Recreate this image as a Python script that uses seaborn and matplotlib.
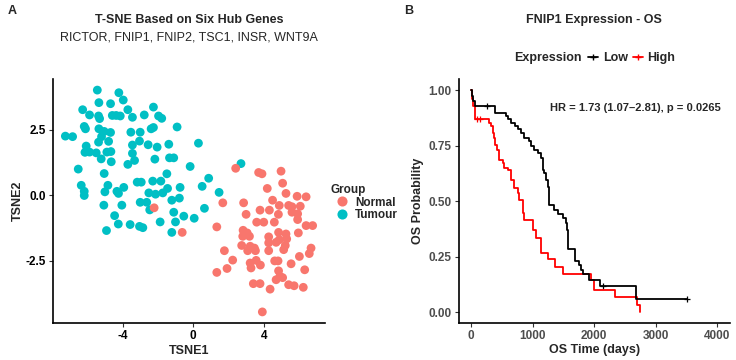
import numpy as np
import pandas as pd
import seaborn as sns
import matplotlib.pyplot as plt
from matplotlib.lines import Line2D

sns.set_style('white')
plt.rcParams['font.family'] = ['Liberation Sans', 'DejaVu Sans']
plt.rcParams['axes.unicode_minus'] = False

# t-SNE coordinates
tumour_x = [-5.43, -4.21, -5.34, -3.96, -4.68, -2.25, -6.26, -3.70, -5.87, -5.36,
            -5.30, -4.58, -4.36, -4.13, -3.44, -2.77, -1.96, -1.78, -6.17, -6.10,
            -5.34, -5.04, -4.68, -5.19, -2.25, -2.38, -0.91, -3.53, -3.00, -7.24,
            -6.83, -5.36, -4.79, -3.04, -2.55, -2.04, -3.44, -1.38, 0.30, -6.06,
            -6.13, -5.87, -5.49, -4.89, -4.66, -3.44, -5.21, -4.64, -3.32, -3.70,
            -2.17, -1.34, -1.10, -0.17, -6.51, -5.04, 2.71, 0.88, -1.49, -6.34,
            -6.17, -6.17, -4.83, -5.00, -4.32, -4.23, -3.93, -3.17, -2.94, -2.29,
            -2.51, -2.13, -1.72, -1.45, -1.83, -0.74, 0.51, 1.47, -5.06, -4.04,
            -3.00, -2.63, -1.21, -0.78, -2.46, -4.45, -1.10, -0.53, 0.06, -4.24,
            -3.57, -3.04, -2.85, -1.87, -1.00, -4.91, -1.21, 0.64]
tumour_y = [4.02, 3.92, 3.54, 3.64, 3.50, 3.37, 3.27, 3.27, 3.07, 3.03,
            2.93, 3.05, 3.05, 3.03, 2.98, 3.07, 3.03, 2.94, 2.63, 2.54,
            2.54, 2.44, 2.40, 2.24, 2.59, 2.54, 2.61, 2.41, 2.41, 2.26,
            2.24, 2.03, 2.06, 2.07, 1.93, 1.84, 1.92, 1.95, 1.99, 1.88,
            1.64, 1.65, 1.62, 1.65, 1.67, 1.60, 1.39, 1.28, 1.33, 1.18,
            1.38, 1.43, 1.43, 1.10, 1.00, 0.83, 1.21, 0.65, 0.82, 0.38,
            0.15, -0.01, 0.38, 0.13, 0.15, 0.07, 0.30, 0.50, 0.50, 0.54,
            0.09, 0.04, 0.09, 0.26, 0.54, 0.30, 0.34, 0.11, -0.38, -0.38,
            -0.27, -0.27, -0.19, -0.11, -0.56, -0.78, -0.65, -0.80, -0.88, -1.10,
            -1.12, -1.19, -1.24, -1.02, -1.02, -1.35, -1.42, -0.50]

normal_x = [2.41, 3.71, 3.90, 4.98, -2.21, -0.62, 5.07, 4.20, 5.26, 5.89,
            6.40, 1.68, 2.86, 4.50, 4.88, 5.41, 5.60, 6.07, 3.00, 3.79,
            4.32, 4.83, 5.60, 5.92, 5.92, 3.60, 4.00, 4.60, 1.34, 6.40,
            6.77, 2.83, 3.06, 4.84, 5.26, 5.96, 2.81, 3.19, 4.28, 4.88,
            5.30, 4.28, 4.70, 2.75, 3.23, 3.47, 5.22, 5.13, 6.68, 1.77,
            3.09, 3.53, 4.28, 6.58, 2.24, 3.23, 3.57, 3.81, 4.62, 4.81,
            5.55, 6.02, 1.34, 1.92, 3.28, 4.84, 6.32, 4.92, 5.07, 4.70,
            3.41, 3.79, 4.36, 5.41, 5.72, 6.24, 3.92]
normal_y = [1.03, 0.87, 0.82, 0.92, -0.48, -1.42, 0.46, 0.26, 0.07, -0.04,
            -0.06, -0.29, -0.29, -0.19, -0.39, -0.39, -0.44, -0.42, -0.73, -0.57,
            -0.57, -0.73, -0.65, -0.71, -0.93, -1.03, -1.03, -1.03, -1.21, -1.16,
            -1.16, -1.34, -1.44, -1.42, -1.48, -1.44, -1.57, -1.57, -1.59, -1.70,
            -1.67, -1.82, -1.80, -1.92, -1.95, -2.02, -1.92, -2.08, -2.02, -2.12,
            -2.12, -2.12, -2.12, -2.23, -2.48, -2.59, -2.49, -2.67, -2.51, -2.51,
            -2.62, -2.34, -2.95, -2.80, -2.78, -2.89, -2.85, -3.10, -3.15, -3.23,
            -3.38, -3.38, -3.59, -3.42, -3.46, -3.52, -4.46]

# Kaplan-Meier steps (time in days, survival after the event)
low_time = [0, 15, 40, 70, 395, 568, 594, 649, 714, 756, 812, 865, 946, 974, 1028,
            1081, 1136, 1162, 1174, 1190, 1218, 1245, 1262, 1270, 1355, 1420, 1498,
            1542, 1560, 1570, 1695, 1747, 1786, 1812, 1920, 2099, 2678, 3511]
low_surv = [1.0, 0.975, 0.95, 0.929, 0.90, 0.884, 0.869, 0.854, 0.839, 0.824, 0.809,
            0.786, 0.771, 0.748, 0.733, 0.718, 0.696, 0.673, 0.643, 0.628, 0.598,
            0.565, 0.538, 0.485, 0.462, 0.445, 0.425, 0.402, 0.372, 0.285, 0.229,
            0.214, 0.191, 0.173, 0.143, 0.116, 0.059, 0.059]
high_time = [0, 10, 40, 70, 297, 325, 350, 367, 390, 422, 459, 513, 541, 594, 649,
             703, 756, 784, 838, 850, 865, 1005, 1050, 1140, 1244, 1369, 1487, 1948,
             1990, 2343, 2688, 2744]
high_surv = [1.0, 0.96, 0.929, 0.872, 0.854, 0.839, 0.809, 0.786, 0.756, 0.733, 0.688,
             0.673, 0.651, 0.643, 0.598, 0.56, 0.538, 0.507, 0.47, 0.447, 0.417, 0.372,
             0.334, 0.269, 0.24, 0.206, 0.172, 0.143, 0.10, 0.068, 0.033, 0.0]
low_cens_time = [260, 2150, 3511]
low_cens_surv = [0.929, 0.116, 0.059]
high_cens_time = [100, 140]
high_cens_surv = [0.872, 0.872]

col_normal = '#F8766D'
col_tumour = '#00BFC4'

W, H = 736, 360
fig = plt.figure(figsize=(W / 100, H / 100), dpi=100)

# ---------------- panel A ----------------
ax1 = fig.add_axes([53 / W, 1 - 323 / H, 272 / W, 244 / H])
tsne = pd.DataFrame({
    'TSNE1': tumour_x + normal_x,
    'TSNE2': tumour_y + normal_y,
    'Group': ['Tumour'] * len(tumour_x) + ['Normal'] * len(normal_x),
})
sns.scatterplot(data=tsne, x='TSNE1', y='TSNE2', hue='Group',
                hue_order=['Normal', 'Tumour'],
                palette={'Normal': col_normal, 'Tumour': col_tumour},
                s=40, linewidth=0, alpha=1, ax=ax1)

xr = max(tsne['TSNE1']) - min(tsne['TSNE1'])
yr = max(tsne['TSNE2']) - min(tsne['TSNE2'])
ax1.set_xlim(min(tsne['TSNE1']) - 0.05 * xr, max(tsne['TSNE1']) + 0.05 * xr)
ax1.set_ylim(min(tsne['TSNE2']) - 0.05 * yr, max(tsne['TSNE2']) + 0.05 * yr)
ax1.set_xticks([-4, 0, 4])
ax1.set_yticks([-2.5, 0, 2.5])
ax1.set_yticklabels(['-2.5', '0.0', '2.5'])
ax1.set_xlabel('TSNE1', fontsize=9, fontweight='bold', labelpad=2)
ax1.set_ylabel('TSNE2', fontsize=9, fontweight='bold', labelpad=1)

leg1 = ax1.legend(title='Group', loc='upper left', bbox_to_anchor=(1.02, 0.57),
                  frameon=False, handletextpad=0.1, labelspacing=0.05,
                  borderpad=0, markerscale=1.15, borderaxespad=0,
                  prop={'weight': 'bold', 'size': 8.5},
                  title_fontproperties={'weight': 'bold', 'size': 8.5})
leg1._legend_box.align = 'left'

fig.text(189 / W, 1 - 20 / H, 'T-SNE Based on Six Hub Genes', ha='center',
         va='center', fontsize=9, fontweight='bold')
fig.text(189 / W, 1 - 37 / H, 'RICTOR, FNIP1, FNIP2, TSC1, INSR, WNT9A',
         ha='center', va='center', fontsize=9)
fig.text(12 / W, 1 - 11 / H, 'A', ha='center', va='center', fontsize=9,
         fontweight='bold')

# ---------------- panel B ----------------
ax2 = fig.add_axes([458.7 / W, 1 - 323.3 / H, 271 / W, 244 / H])
km_low = pd.DataFrame({'time': low_time, 'surv': low_surv})
km_high = pd.DataFrame({'time': high_time, 'surv': high_surv})
sns.lineplot(data=km_high, x='time', y='surv', color='#FF0000', lw=1.3,
             drawstyle='steps-post', estimator=None, ax=ax2)
sns.lineplot(data=km_low, x='time', y='surv', color='black', lw=1.3,
             drawstyle='steps-post', estimator=None, ax=ax2)
sns.scatterplot(x=low_cens_time, y=low_cens_surv, marker='+', color='black',
                s=22, linewidth=0.9, ax=ax2)
sns.scatterplot(x=high_cens_time, y=high_cens_surv, marker='+', color='#FF0000',
                s=22, linewidth=0.9, ax=ax2)

ax2.set_xlim(-200, 4200)
ax2.set_ylim(-0.05, 1.05)
ax2.set_xticks([0, 1000, 2000, 3000, 4000])
ax2.set_yticks([0, 0.25, 0.5, 0.75, 1.0])
ax2.set_yticklabels(['0.00', '0.25', '0.50', '0.75', '1.00'])
ax2.set_xlabel('OS Time (days)', fontsize=9, fontweight='bold', labelpad=1)
ax2.set_ylabel('OS Probability', fontsize=9, fontweight='bold', labelpad=3)
ax2.text(2675, 0.919, 'HR = 1.73 (1.07\u20132.81), p = 0.0265', ha='center',
         va='center', fontsize=8, fontweight='bold')

handles = [Line2D([0], [0], color='black', lw=1.3, marker='+', markersize=5),
           Line2D([0], [0], color='#FF0000', lw=1.3, marker='+', markersize=5)]
fig.legend(handles, ['Low', 'High'], loc='center left',
           bbox_to_anchor=(582 / W, 1 - 58 / H), ncol=2, frameon=False,
           handlelength=0.8, handletextpad=0.35, columnspacing=0.4,
           borderpad=0, prop={'weight': 'bold', 'size': 9})
fig.text(548 / W, 1 - 58 / H, 'Expression', ha='center', va='center',
         fontsize=9, fontweight='bold')
fig.text(594 / W, 1 - 20 / H, 'FNIP1 Expression - OS', ha='center',
         va='center', fontsize=9, fontweight='bold')
fig.text(409 / W, 1 - 11 / H, 'B', ha='center', va='center', fontsize=9,
         fontweight='bold')

for ax, tc in [(ax1, 'black'), (ax2, '#4D4D4D')]:
    sns.despine(ax=ax)
    for side in ['left', 'bottom']:
        ax.spines[side].set_color('black')
        ax.spines[side].set_linewidth(1.2)
    ax.tick_params(axis='both', length=3, width=0.8, color='#333333',
                   labelsize=8.5, labelcolor=tc, pad=2, bottom=True, left=True)
    for lab in ax.get_xticklabels() + ax.get_yticklabels():
        lab.set_fontweight('bold')

plt.savefig('out.png', dpi=100)
